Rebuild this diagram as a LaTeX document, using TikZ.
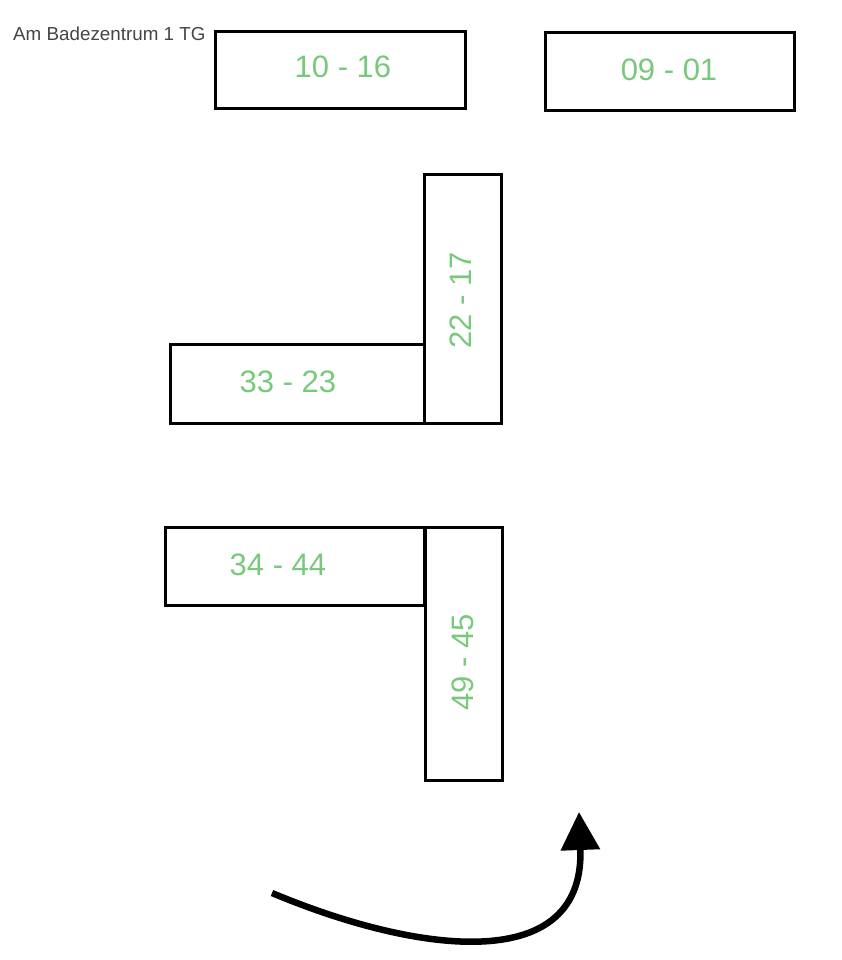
\documentclass[tikz,border=0pt]{standalone}
\usepackage{fontspec}
\setmainfont{Liberation Sans}
\usepackage{xcolor}
\usepackage{tikz}
\usetikzlibrary{arrows.meta,positioning,calc}
\definecolor{spotgreen}{HTML}{78C97B}
\definecolor{labelgray}{HTML}{454545}

\begin{document}
\begin{tikzpicture}[x=1pt,y=-1pt,
  bay/.style={draw,line width=2.6pt,anchor=north west,inner sep=0pt},
  nums/.style={text=spotgreen,font=\fontsize{31}{31}\selectfont}]
\useasboundingbox (0,0) rectangle (841,960);
\node[text=labelgray,font=\fontsize{18.8}{19}\selectfont,anchor=base west,inner sep=0pt] (garage) at (13,41) {Am Badezentrum 1 TG};

% parking rows
\node[bay,minimum width=250pt,minimum height=77pt] (b1016) at (214,30) {};
\node[bay,minimum width=249pt,minimum height=78pt] (b0901) at (544,31) {};
\node[bay,minimum width=77pt,minimum height=249pt] (b2217) at (423,173) {};
\node[bay,minimum width=254pt,minimum height=79pt] (b3323) at (169,343) {};
\node[bay,minimum width=259pt,minimum height=78pt] (b3444) at (164,526) {};
\node[bay,minimum width=77pt,minimum height=253pt] (b4945) at (424,526) {};

\node[nums] (t1016) at (343,67) {10 - 16};
\node[nums] (t0901) at (669,70) {09 - 01};
\node[nums,rotate=90] (t2217) at (461,300) {22 - 17};
\node[nums] (t3323) at (288,382) {33 - 23};
\node[nums] (t3444) at (278,565) {34 - 44};
\node[nums,rotate=90] (t4945) at (463,662) {49 - 45};

% driving direction
\coordinate (start) at (272,893);
\coordinate (tip) at (579,812);
\draw[line width=6.5pt,-{Triangle[width=38pt,length=38pt]}] (start) .. controls (420,955) and (585,975) .. (tip);
\end{tikzpicture}
\end{document}
